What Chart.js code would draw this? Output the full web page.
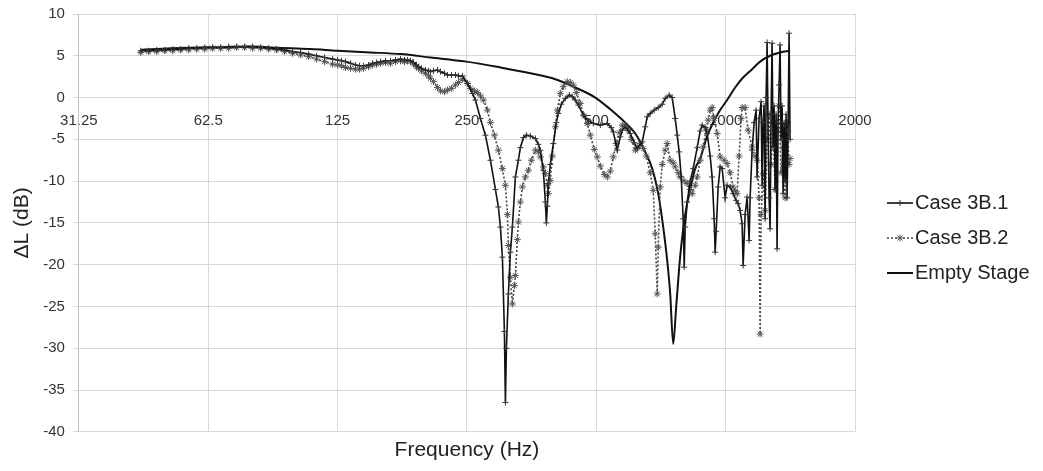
<!DOCTYPE html>
<html>
<head>
<meta charset="utf-8">
<script src="https://cdn.jsdelivr.net/npm/chart.js@4.4.0/dist/chart.umd.min.js"></script>
<style>
  body { margin: 0; background: #fff; }
  #wrap { width: 1043px; height: 471px; position: relative; }
</style>
</head>
<body>
<div id="wrap"><canvas id="chart"></canvas></div>
<script>
// octave ticks on the frequency axis
const xTicks = [31.25, 62.5, 125, 250, 500, 1000, 2000];

// Case 3B.1 : frequency (Hz) and level difference (dB)
const freqCase1 = [43.55, 45.45, 47.44, 49.52, 51.69, 53.95, 56.31, 58.77, 61.34, 64.02, 66.83, 69.75, 72.80, 75.99, 79.31,
  82.78, 86.40, 90.18, 94.13, 98.25, 102.54, 107.03, 111.71, 116.60, 121.70, 125.0, 127.71, 130.47, 134.01, 137.65,
  140.62, 143.67, 147.56, 150.76, 154.02, 157.35, 161.62, 166.00, 170.51, 175.13, 178.92, 181.82, 184.76, 187.75,
  190.79, 192.84, 195.96, 200.21, 203.45, 205.63, 208.96, 213.49, 216.94, 221.64, 225.23, 230.10, 235.08, 238.89, 244.06,
  250.67, 257.47, 261.64, 268.73, 276.02, 283.51, 291.20, 295.91, 299.10, 302.32, 305.57, 307.21, 308.86, 312.18,
  315.55, 318.94, 324.10, 329.35, 332.89, 338.28, 343.76, 351.20, 360.72, 366.56, 370.51, 376.51, 380.56, 382.60,
  384.65, 386.72, 390.88, 397.21, 403.64, 407.98, 414.59, 423.56, 432.72, 439.74, 446.86, 454.09, 466.40, 479.06,
  492.05, 510.82, 530.34, 541.82, 547.65, 559.48, 568.54, 574.66, 583.97, 593.42, 599.80, 612.78, 622.70, 639.59,
  649.94, 656.94, 667.57, 682.02, 696.79, 711.86, 723.38, 739.04, 751.01, 763.17, 771.37, 779.67, 788.06, 796.54,
  800.82, 805.12, 813.78, 826.96, 840.34, 858.54, 872.44, 881.80, 896.08, 905.72, 920.38, 930.29, 940.30, 945.35,
  950.42, 960.65, 970.99, 981.44, 997.33, 1008.06, 1024.38, 1040.96, 1057.81, 1069.22, 1080.70, 1092.33, 1098.20,
  1110.02, 1121.96, 1134.04, 1140.13, 1152.40, 1164.80, 1177.34, 1183.65, 1196.39, 1209.27, 1215.76, 1222.28,
  1228.84, 1235.44, 1242.07, 1248.74, 1255.44, 1262.18, 1268.95, 1275.76, 1282.61, 1289.49, 1296.41, 1303.37,
  1310.36, 1317.39, 1324.46, 1331.57, 1338.71, 1345.90, 1353.12, 1360.38, 1367.69, 1375.03, 1382.41, 1389.83,
  1397.31, 1404.79, 1412.33];
const case1 = [5.6, 5.6, 5.7, 5.7, 5.8, 5.8, 5.9, 5.9, 6.0, 6.0, 6.0, 6.1, 6.1, 6.1, 6.1,
  6.0, 5.9, 5.8, 5.7, 5.5, 5.4, 5.2, 5.0, 4.8, 4.6, 4.5, 4.4, 4.3, 4.1, 3.9,
  3.8, 3.8, 3.9, 4.1, 4.2, 4.3, 4.4, 4.4, 4.5, 4.6, 4.5, 4.5, 4.4, 4.2,
  3.9, 3.7, 3.5, 3.3, 3.2, 3.1, 3.2, 3.3, 3.1, 2.9, 2.7, 2.7, 2.7, 2.6, 2.6,
  1.7, 0.5, -0.3, -2.5, -4.5, -7.5, -11.0, -13.1, -15.5, -19.1, -28.0, -36.5, -30.0, -23.5,
  -18.5, -15.5, -9.5, -7.5, -6.0, -4.8, -4.5, -4.6, -4.9, -5.6, -6.3, -8.7, -12.5, -15.0,
  -13.0, -10.3, -8.0, -5.5, -3.0, -1.9, -0.8, -0.1, 0.3, 0.1, -0.3, -0.9, -2.1, -2.8,
  -3.1, -3.3, -3.1, -3.6, -4.1, -6.3, -4.7, -3.9, -3.5, -3.9, -4.3, -5.4, -6.1, -5.3,
  -3.5, -2.3, -1.9, -1.5, -1.2, -0.8, -0.1, 0.3, 0.0, -2.5, -4.5, -6.5, -9.5, -14.5,
  -20.3, -15.5, -12.5, -10.0, -8.5, -6.0, -4.0, -3.3, -3.6, -4.3, -7.0, -9.5, -14.5, -18.5,
  -16.0, -10.7, -8.3, -8.5, -12.0, -10.5, -10.7, -11.5, -12.3, -12.7, -13.5, -15.1, -20.1,
  -14.0, -11.9, -17.1, -12.0, -6.3, -3.0, -1.5, -9.5, -2.5, -0.5, -10.5, -3.0,
  -1.0, -14.5, 0.0, 6.6, -4.0, -12.0, -15.7, -2.0, 6.5, -6.0, -1.0, -11.0,
  -2.0, -18.1, -3.0, 1.5, 6.3, -5.0, -1.0, -11.5, -3.0, -10.0, -2.0, -12.0,
  -4.0, 7.7, -5.0];

// Case 3B.2
const freqCase2 = [43.55, 45.45, 47.44, 49.52, 51.69, 53.95, 56.31, 58.77, 61.34, 64.02, 66.83, 69.75, 72.80, 75.99, 79.31,
  82.78, 86.40, 90.18, 94.13, 98.25, 102.54, 107.03, 111.71, 116.60, 121.70, 125.0, 127.71, 130.47, 134.01, 137.65,
  140.62, 143.67, 147.56, 150.76, 154.02, 157.35, 161.62, 166.00, 170.51, 175.13, 178.92, 181.82, 184.76, 187.75,
  190.79, 192.84, 195.96, 200.21, 203.45, 205.63, 208.96, 213.49, 216.94, 221.64, 225.23, 230.10, 235.08, 238.89, 244.06,
  250.67, 254.73, 260.24, 264.45, 268.73, 273.08, 278.99, 283.51, 289.65, 295.91, 302.32, 307.21, 310.52, 312.18,
  315.55, 318.94, 322.37, 324.10, 327.59, 329.35, 332.89, 336.48, 341.92, 347.46, 353.08, 360.72, 366.56, 370.51,
  376.51, 380.56, 384.65, 386.72, 390.88, 395.09, 401.48, 405.80, 412.37, 419.05, 428.12, 435.05, 442.10, 449.25,
  458.98, 468.91, 476.50, 484.21, 494.69, 502.68, 510.82, 521.88, 530.34, 538.92, 547.65, 556.52, 565.51, 574.66,
  583.97, 593.42, 603.02, 616.07, 622.70, 632.78, 643.02, 653.43, 667.57, 678.38, 685.68, 693.06, 696.79, 704.28,
  711.86, 723.38, 731.17, 743.01, 755.05, 763.17, 775.51, 783.85, 800.82, 813.78, 826.96, 835.85, 849.39, 858.54,
  872.44, 886.54, 900.88, 910.58, 920.38, 930.29, 940.30, 955.52, 970.99, 992.00, 1008.06, 1024.38, 1040.96,
  1052.16, 1063.49, 1074.93, 1086.50, 1092.33, 1110.02, 1127.98, 1152.40, 1171.05, 1183.65, 1196.39, 1202.82,
  1209.27, 1222.28, 1235.44, 1248.74, 1262.18, 1275.76, 1289.49, 1303.37, 1317.39, 1331.57, 1345.90, 1360.38,
  1375.03, 1389.83, 1404.79, 1412.33];
const case2 = [5.4, 5.5, 5.5, 5.6, 5.6, 5.7, 5.7, 5.8, 5.8, 5.9, 5.9, 5.9, 6.0, 6.0, 5.9,
  5.9, 5.8, 5.7, 5.5, 5.3, 5.1, 4.9, 4.6, 4.3, 4.0, 3.9, 3.8, 3.6, 3.5, 3.4,
  3.4, 3.5, 3.7, 3.9, 4.0, 4.1, 4.2, 4.1, 4.3, 4.4, 4.3, 4.4, 4.3, 4.0,
  3.7, 3.5, 3.2, 2.9, 2.6, 2.3, 1.9, 1.2, 0.8, 0.7, 0.9, 1.1, 1.5, 1.8, 2.2,
  1.7, 1.1, 0.8, 0.6, 0.2, -0.3, -1.5, -3.0, -4.5, -6.3, -8.5, -10.5, -14.0, -17.7,
  -21.5, -24.7, -22.5, -21.3, -17.0, -14.9, -12.5, -10.7, -9.5, -8.7, -7.5, -6.3, -6.5, -7.1,
  -8.3, -9.1, -10.5, -11.5, -9.9, -7.0, -3.5, -1.5, 0.5, 1.3, 1.9, 1.8, 1.5, 0.6,
  -0.7, -2.2, -3.1, -4.5, -6.2, -7.1, -8.2, -9.2, -9.5, -8.8, -7.1, -5.5, -4.2, -3.3,
  -3.3, -3.9, -5.0, -6.3, -6.0, -5.5, -6.1, -7.0, -9.0, -11.1, -16.3, -23.5, -17.9, -10.7,
  -8.0, -6.3, -5.5, -7.5, -7.8, -8.3, -9.0, -9.5, -10.0, -10.3, -11.0, -11.5, -10.5, -9.5,
  -7.5, -5.9, -3.8, -2.7, -1.5, -1.2, -2.5, -4.3, -7.1, -7.5, -7.9, -9.0, -10.7,
  -11.2, -11.5, -7.0, -2.5, -1.2, -1.2, -3.9, -5.9, -7.0, -7.5, -12.0, -28.3,
  -14.0, -9.1, -13.5, -5.0, -2.0, -8.0, -3.0, -11.0, -4.0, -1.0, -9.0, -6.0,
  -12.0, -3.0, -8.0, -7.3];

// Empty Stage
const freqEmpty = [43.55, 51.13, 60.04, 70.50, 78.47, 87.33, 97.20, 108.18, 125.0, 149.15, 175.13, 205.63, 249.33,
  299.10, 351.20, 401.48, 446.86, 497.33, 538.92, 583.97, 616.07, 649.94, 674.76, 696.79, 715.68, 731.17, 743.01,
  755.05, 767.26, 783.85, 805.12, 826.96, 849.39, 872.44, 905.72, 935.26, 970.99, 1008.06, 1052.16, 1098.20,
  1152.40, 1202.82, 1268.95, 1338.71, 1412.33];
const emptyStage = [5.7, 5.9, 6.0, 6.0, 6.1, 6.0, 5.9, 5.8, 5.6, 5.4, 5.2, 4.8, 4.3,
  3.6, 2.9, 2.2, 1.2, 0.0, -1.4, -3.0, -4.3, -6.5, -8.5, -11.5, -15.5, -19.5, -23.5,
  -29.5, -25.0, -19.0, -14.0, -11.0, -8.5, -7.3, -4.6, -3.0, -1.5, -0.3, 1.2, 2.4,
  3.4, 4.3, 5.0, 5.4, 5.6];

const FONT = '"Liberation Sans", Arial, sans-serif';

const toPoints = (xs, ys) => xs.map((x, i) => ({ x: x, y: ys[i] }));

const drawMarker = (ctx, style, cx, cy, r) => {
  ctx.beginPath();
  if (style === 'cross' || style === 'star') {
    ctx.moveTo(cx - r, cy); ctx.lineTo(cx + r, cy);
    ctx.moveTo(cx, cy - r); ctx.lineTo(cx, cy + r);
  }
  if (style === 'star') {
    const d = r * 0.707;
    ctx.moveTo(cx - d, cy - d); ctx.lineTo(cx + d, cy + d);
    ctx.moveTo(cx - d, cy + d); ctx.lineTo(cx + d, cy - d);
  }
  ctx.stroke();
};

// legend drawn on the right, Excel style
const sideLegend = {
  id: 'sideLegend',
  afterDraw(chart) {
    const ctx = chart.ctx;
    ctx.save();
    ctx.font = '20px ' + FONT;
    ctx.textBaseline = 'middle';
    chart.data.datasets.forEach((ds, i) => {
      const y = 203 + i * 35;
      ctx.strokeStyle = ds.borderColor;
      ctx.lineWidth = ds.borderWidth;
      ctx.setLineDash(ds.borderDash || []);
      ctx.beginPath();
      ctx.moveTo(887, y);
      ctx.lineTo(913, y);
      ctx.stroke();
      ctx.setLineDash([]);
      if (ds.pointRadius) {
        ctx.strokeStyle = ds.pointBorderColor;
        ctx.lineWidth = 1;
        drawMarker(ctx, ds.pointStyle, 900, y, ds.pointRadius);
      }
      ctx.fillStyle = '#222';
      ctx.fillText(ds.label, 915, y);
    });
    ctx.restore();
  }
};

new Chart(document.getElementById('chart'), {
  type: 'line',
  data: {
    datasets: [
      {
        label: 'Case 3B.1',
        data: toPoints(freqCase1, case1),
        borderColor: '#111',
        borderWidth: 1.6,
        pointStyle: 'cross',
        pointRadius: 3,
        pointBorderColor: '#333',
        pointBorderWidth: 1,
        pointBackgroundColor: 'rgba(0,0,0,0)',
        tension: 0
      },
      {
        label: 'Case 3B.2',
        data: toPoints(freqCase2, case2),
        borderColor: '#444',
        borderWidth: 1.6,
        borderDash: [2, 2],
        pointStyle: 'star',
        pointRadius: 3.5,
        pointBorderColor: '#555',
        pointBorderWidth: 1,
        pointBackgroundColor: 'rgba(0,0,0,0)',
        tension: 0
      },
      {
        label: 'Empty Stage',
        data: toPoints(freqEmpty, emptyStage),
        borderColor: '#111',
        borderWidth: 2,
        pointRadius: 0,
        cubicInterpolationMode: 'monotone'
      }
    ]
  },
  options: {
    responsive: true,
    maintainAspectRatio: false,
    animation: false,
    layout: { padding: { left: 10, right: 188, top: 14, bottom: 8 } },
    plugins: {
      legend: { display: false },
      tooltip: { enabled: false }
    },
    scales: {
      x: {
        type: 'logarithmic',
        min: 31.25,
        max: 2000,
        position: { y: 0 },
        afterBuildTicks: (axis) => { axis.ticks = xTicks.map(v => ({ value: v })); },
        ticks: {
          callback: (v) => String(v),
          font: { family: FONT, size: 15 },
          color: '#333',
          padding: 14,
          maxRotation: 0,
          autoSkip: false
        },
        grid: { color: '#d9d9d9', drawTicks: false },
        border: { display: false }
      },
      x2: {
        axis: 'x',
        type: 'linear',
        position: 'bottom',
        ticks: { display: false },
        grid: { display: false, drawTicks: false },
        border: { display: false },
        title: {
          display: true,
          text: 'Frequency (Hz)',
          font: { family: FONT, size: 21 },
          color: '#222',
          padding: { top: 6, bottom: 0 }
        }
      },
      y: {
        min: -40,
        max: 10,
        afterFit: (s) => { s.paddingTop = 0; },
        ticks: {
          stepSize: 5,
          font: { family: FONT, size: 15 },
          color: '#333',
          padding: 8
        },
        grid: { color: '#d9d9d9', tickLength: 6 },
        border: { color: '#bfbfbf' },
        title: {
          display: true,
          text: 'ΔL (dB)',
          font: { family: FONT, size: 21 },
          color: '#222',
          padding: { top: 0, bottom: 0 }
        }
      }
    }
  },
  plugins: [sideLegend]
});
</script>
</body>
</html>
